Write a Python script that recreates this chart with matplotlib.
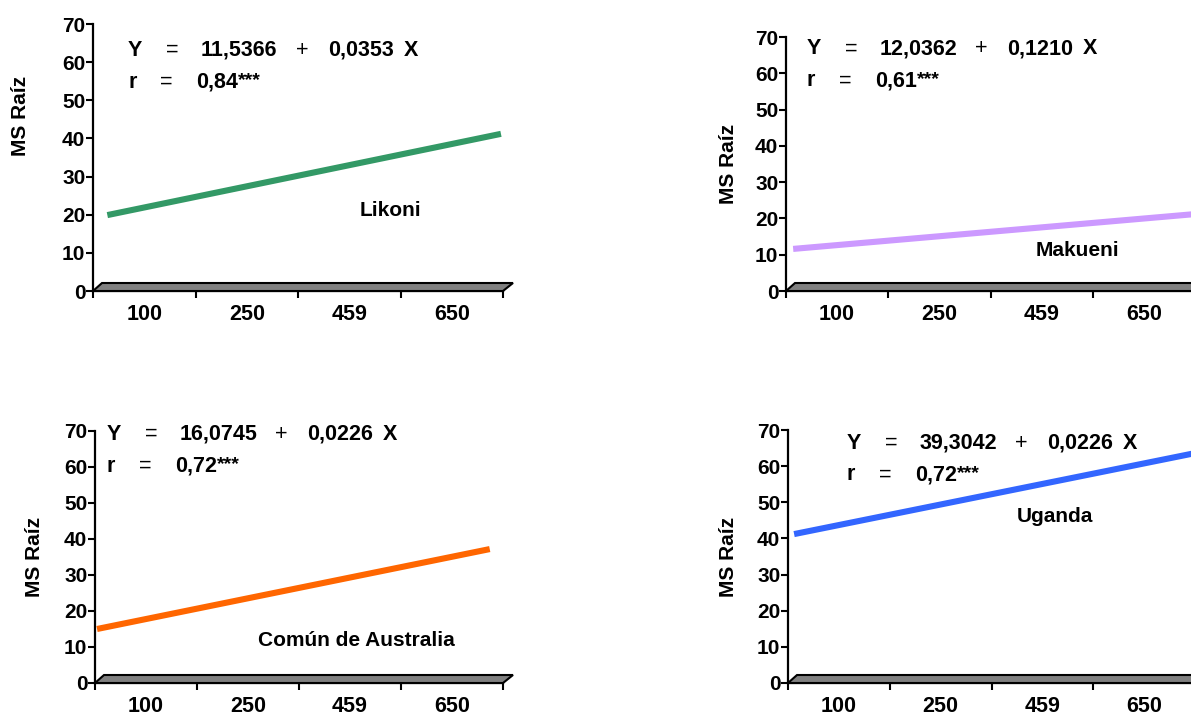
import numpy as np
import matplotlib.pyplot as plt
from matplotlib.patches import Polygon

plt.rcParams['font.family'] = ['Liberation Sans', 'DejaVu Sans']

W, H = 1191, 712

doses = ['100', '250', '459', '650']
regions = ['Likoni', 'Makueni', 'Común de Australia', 'Uganda']
intercepts = ['11,5366', '12,0362', '16,0745', '39,3042']
slopes = ['0,0353', '0,1210', '0,0226', '0,0226']
r_values = ['0,84', '0,61', '0,72', '0,72']
colors = ['#339966', '#CC99FF', '#FF6600', '#3366FF']

# trend line ends: category position and MS Raíz value
line_x = [[0.14, 3.98], [0.07, 4.0], [0.02, 3.87], [0.06, 4.0]]
line_y = [[19.9, 41.2], [11.6, 21.2], [15.0, 37.2], [41.2, 63.6]]

# panel boxes in pixels: left, top, right, bottom
boxes = [(93, 24, 503, 291), (786, 37, 1195, 291),
         (95, 431, 503, 683), (788, 430, 1195, 683)]
eq_anchor = [(128, 50), (807, 49), (107, 434), (847, 443)]
name_pos = [(390, 210), (1077, 250), (356, 641), (1055, 517)]
ylab_pos = [(20, 116), (729, 164), (35, 557), (728, 557)]


def fx(px):
    return px / W


def fy(py):
    return 1 - py / H


fig = plt.figure(figsize=(W / 100, H / 100), dpi=100)

for i in range(4):
    l, t, r, b = boxes[i]
    ax = fig.add_axes([fx(l), fy(b), (r - l) / W, (b - t) / H])
    ax.plot(line_x[i], line_y[i], color=colors[i], lw=4.4,
            solid_capstyle='butt')
    ax.set_xlim(0, 4)
    ax.set_ylim(0, 70)
    ax.set_yticks(range(0, 71, 10))
    ax.set_xticks(range(5))
    ax.set_xticklabels([])
    ax.set_xticks(np.arange(0.5, 4, 1), minor=True)
    ax.set_xticklabels(doses, minor=True)
    ax.tick_params(axis='x', which='major', direction='out', length=5,
                   width=1.5)
    ax.tick_params(axis='x', which='minor', length=0, pad=9,
                   labelsize=15.5)
    ax.tick_params(axis='y', direction='out', length=5, width=1.5,
                   labelsize=15, pad=0.5)
    for lab in ax.get_xticklabels(minor=True) + ax.get_yticklabels():
        lab.set_fontweight('bold')
    for s in ['top', 'right']:
        ax.spines[s].set_visible(False)
    ax.spines['left'].set_linewidth(1.6)
    ax.spines['bottom'].set_linewidth(1.6)
    ax.patch.set_alpha(0)

    # grey floor under the plot area
    floor = Polygon([(fx(l), fy(b)), (fx(l + 9), fy(b - 8)),
                     (fx(r + 10), fy(b - 8)), (fx(r), fy(b))],
                    closed=True, facecolor='#808080', edgecolor='black',
                    lw=1.5, transform=fig.transFigure, zorder=3)
    fig.add_artist(floor)

    # regression equation
    x0, y0 = eq_anchor[i]
    y1 = y0 + 32
    kw = dict(fontsize=15.5, va='center')
    fig.text(fx(x0), fy(y0), 'Y', ha='left', fontweight='bold', **kw)
    fig.text(fx(x0 + 44), fy(y0), '=', ha='center', **kw)
    fig.text(fx(x0 + 73), fy(y0), intercepts[i], ha='left',
             fontweight='bold', **kw)
    fig.text(fx(x0 + 174), fy(y0), '+', ha='center', **kw)
    fig.text(fx(x0 + 200), fy(y0), slopes[i], ha='left',
             fontweight='bold', **kw)
    fig.text(fx(x0 + 276), fy(y0), 'X', ha='left', fontweight='bold', **kw)
    fig.text(fx(x0), fy(y1), 'r', ha='left', fontweight='bold', **kw)
    fig.text(fx(x0 + 38), fy(y1), '=', ha='center', **kw)
    rv = fig.text(fx(x0 + 68), fy(y1), r_values[i], ha='left',
                  fontweight='bold', **kw)
    fig.add_artist(plt.Annotation('***', xy=(1.0, 0.95), xycoords=rv,
                                  ha='left', va='top', fontsize=14,
                                  fontweight='bold'))

    fig.text(fx(name_pos[i][0]), fy(name_pos[i][1]), regions[i],
             ha='center', va='center', fontsize=15, fontweight='bold')
    fig.text(fx(ylab_pos[i][0]), fy(ylab_pos[i][1]), 'MS Raíz',
             ha='center', va='center', rotation=90, fontsize=15,
             fontweight='bold')

fig.savefig('out.png', dpi=100)
